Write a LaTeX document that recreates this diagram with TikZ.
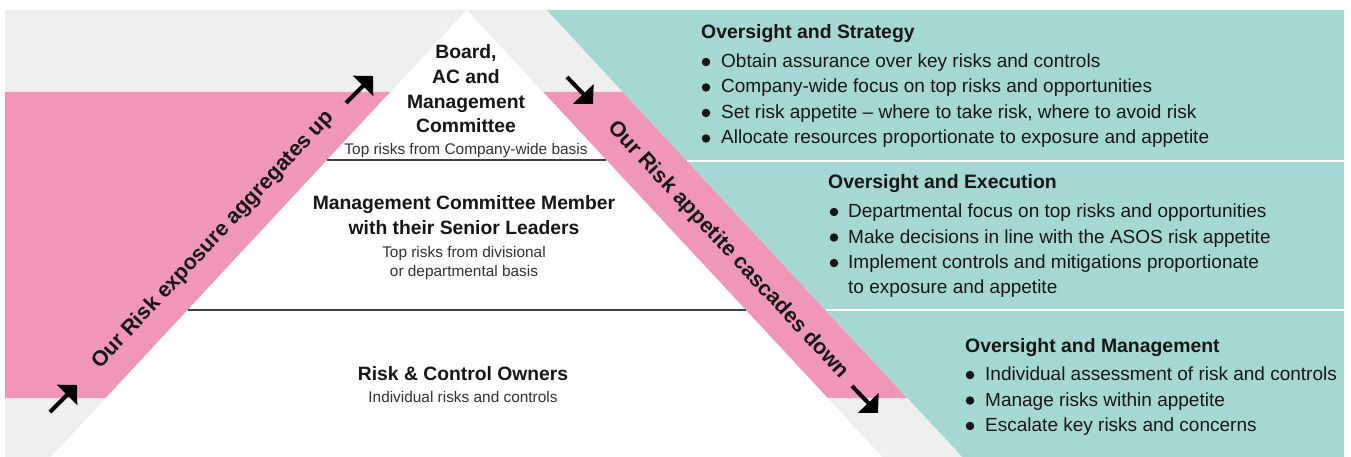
\documentclass[tikz,border=0pt]{standalone}
\usepackage{fontspec}
\setmainfont{Liberation Sans}
\usetikzlibrary{arrows.meta}
\definecolor{pinkband}{RGB}{240,151,185}
\definecolor{tealbg}{RGB}{166,216,211}
\definecolor{graybg}{RGB}{239,239,239}
\definecolor{ink}{RGB}{22,22,22}
\definecolor{subink}{RGB}{50,50,50}
\begin{document}
\begin{tikzpicture}[x=1pt,y=-1pt,
  headtxt/.style={font=\fontsize{19.4}{23}\selectfont\bfseries, text=ink, anchor=base west, inner sep=0},
  itemtxt/.style={font=\fontsize{19.0}{23}\selectfont, text=ink, anchor=base west, inner sep=0},
  tritxt/.style={font=\fontsize{19.3}{23}\selectfont\bfseries, text=ink, anchor=base, inner sep=0},
  trisub/.style={font=\fontsize{15.4}{18}\selectfont, text=subink, anchor=base, inner sep=0},
  diagtxt/.style={font=\fontsize{21.5}{25}\selectfont\bfseries, text=ink, inner sep=0, anchor=center},
  dotmark/.style={circle, fill=ink, inner sep=0, minimum size=8.5pt},
  bigarrow/.style={draw=black, line width=4pt, -{Triangle[length=14pt,width=28pt]}},
  tierline/.style={draw=black!75, line width=1.2pt},
  sepline/.style={draw=white, line width=1.5pt}
]
\useasboundingbox (0,0) rectangle (1351,457);
\fill[white] (0,0) rectangle (1351,457);
% background regions
\fill[graybg] (5,10) -- (546.7,10) -- (962.4,457) -- (5,457) -- cycle;
\fill[tealbg] (546.7,10) -- (1344,10) -- (1344,457) -- (962.4,457) -- cycle;
% pink bands
\fill[pinkband] (5,92) -- (390.4,92) -- (105.9,398) -- (5,398) -- cycle;
\fill[pinkband] (543.0,92) -- (622.7,92) -- (907.2,398) -- (827.5,398) -- cycle;
% white triangle
\fill[white] (466.7,10) -- (51.0,457) -- (882.4,457) -- cycle;
% tier lines
\coordinate (t1l) at (327.2,160); \coordinate (t1r) at (606.2,160);
\coordinate (t2l) at (187.7,310); \coordinate (t2r) at (745.7,310);
\draw[tierline] (t1l) -- (t1r);
\draw[tierline] (t2l) -- (t2r);
% separators in teal
\coordinate (s1l) at (687.1,161); \coordinate (s1r) at (1344,161);
\coordinate (s2l) at (825.7,310); \coordinate (s2r) at (1344,310);
\draw[sepline] (s1l) -- (s1r);
\draw[sepline] (s2l) -- (s2r);
% arrows
\coordinate (a1s) at (50,412); \coordinate (a1e) at (77,385);
\coordinate (a2s) at (346,103); \coordinate (a2e) at (373,76);
\coordinate (a3s) at (567,77); \coordinate (a3e) at (593,104);
\coordinate (a4s) at (852,386); \coordinate (a4e) at (878,413);
\draw[bigarrow] (a1s) -- (a1e);
\draw[bigarrow] (a2s) -- (a2e);
\draw[bigarrow] (a3s) -- (a3e);
\draw[bigarrow] (a4s) -- (a4e);
% diagonal texts
\node[diagtxt, rotate=47.07] (up) at (213.3,240) {Our Risk exposure aggregates up};
\node[diagtxt, rotate=-47.07] (down) at (728,250) {Our Risk appetite cascades down};
% triangle texts
\node[tritxt] (b1) at (466,59) {Board,};
\node[tritxt] (b2) at (466,84) {AC and};
\node[tritxt] (b3) at (466,108.5) {Management};
\node[tritxt] (b4) at (466,133) {Committee};
\node[trisub] (b5) at (466,155) {Top risks from Company-wide basis};
\node[tritxt] (m1) at (464,209) {Management Committee Member};
\node[tritxt] (m2) at (464,234) {with their Senior Leaders};
\node[trisub] (m3) at (464,257) {Top risks from divisional};
\node[trisub] (m4) at (464,276) {or departmental basis};
\node[tritxt] (r1) at (463,380) {Risk \& Control Owners};
\node[trisub] (r2) at (463,402) {Individual risks and controls};
% block 1
\node[headtxt] (h1) at (701,39) {Oversight and Strategy};
\node[dotmark] (d11) at (706,62) {};
\node[itemtxt] (i11) at (721,67.5) {Obtain assurance over key risks and controls};
\node[dotmark] (d12) at (706,87.5) {};
\node[itemtxt] (i12) at (721,93) {Company-wide focus on top risks and opportunities};
\node[dotmark] (d13) at (706,113) {};
\node[itemtxt] (i13) at (721,118.5) {Set risk appetite – where to take risk, where to avoid risk};
\node[dotmark] (d14) at (706,138.5) {};
\node[itemtxt] (i14) at (721,144) {Allocate resources proportionate to exposure and appetite};
% block 2
\node[headtxt] (h2) at (828,189) {Oversight and Execution};
\node[dotmark] (d21) at (834,212) {};
\node[itemtxt] (i21) at (848,217.5) {Departmental focus on top risks and opportunities};
\node[dotmark] (d22) at (834,237.5) {};
\node[itemtxt] (i22) at (848,243) {Make decisions in line with the ASOS risk appetite};
\node[dotmark] (d23) at (834,263) {};
\node[itemtxt] (i23) at (848,268.5) {Implement controls and mitigations proportionate};
\node[itemtxt] (i24) at (848,293) {to exposure and appetite};
% block 3
\node[headtxt] (h3) at (965,352) {Oversight and Management};
\node[dotmark] (d31) at (970,375) {};
\node[itemtxt] (i31) at (985,380.5) {Individual assessment of risk and controls};
\node[dotmark] (d32) at (970,400.5) {};
\node[itemtxt] (i32) at (985,406) {Manage risks within appetite};
\node[dotmark] (d33) at (970,426) {};
\node[itemtxt] (i33) at (985,431.5) {Escalate key risks and concerns};
\end{tikzpicture}
\end{document}
